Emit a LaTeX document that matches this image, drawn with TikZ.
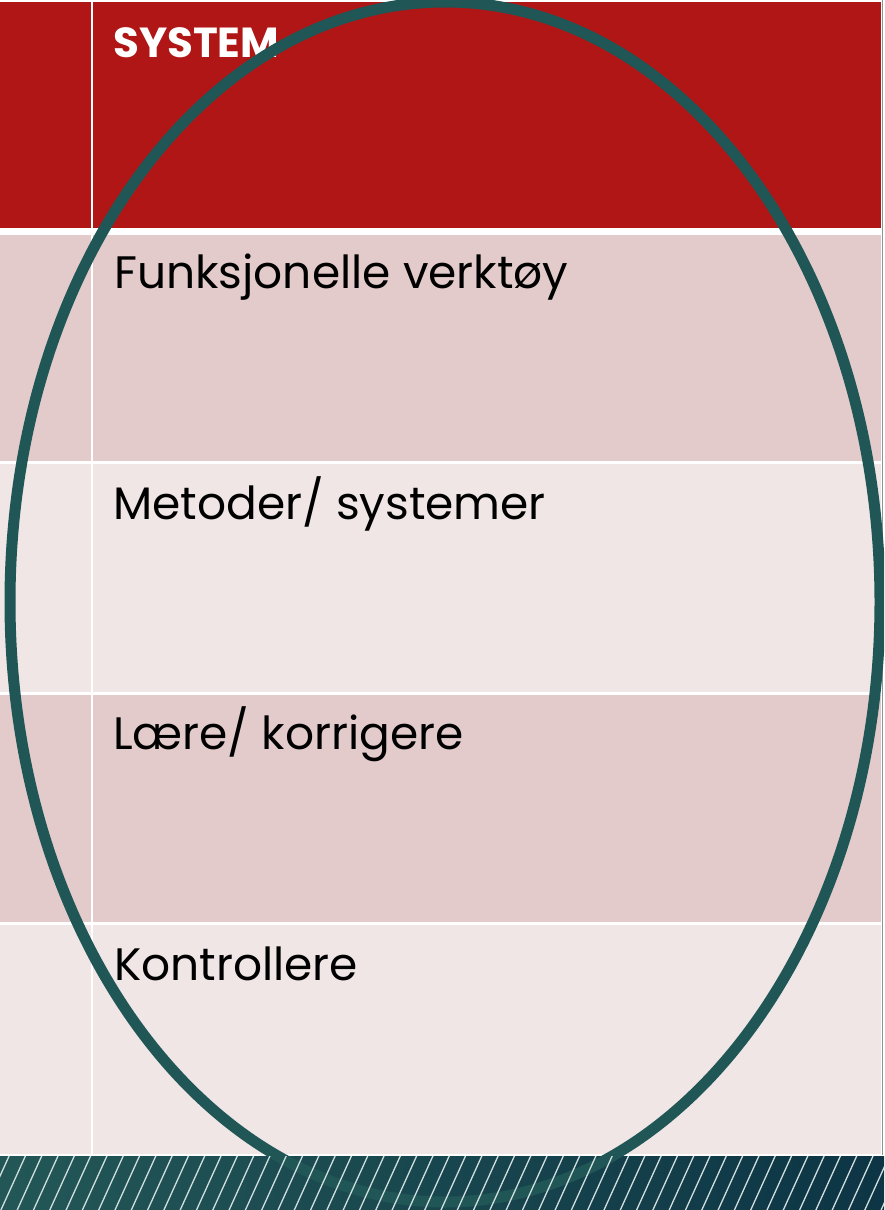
\documentclass[tikz,border=0pt]{standalone}
\usepackage{fontspec}
\setmainfont{Poppins}
\definecolor{hdrred}{HTML}{AF1615}
\definecolor{rowdark}{HTML}{E3CBCB}
\definecolor{rowlight}{HTML}{F0E6E6}
\definecolor{ringteal}{HTML}{205656}
\definecolor{bandleft}{HTML}{235757}
\definecolor{bandright}{HTML}{0D3545}
\definecolor{hatchline}{HTML}{D2DEDE}
\definecolor{edgegrey}{HTML}{8A9696}
\tikzset{
  celltext/.style={anchor=base west, inner sep=0pt, text=black, font=\fontsize{45.5}{54}\selectfont},
  headtext/.style={anchor=base west, inner sep=0pt, text=white, font=\fontsize{42}{50}\selectfont\bfseries},
  ring/.style={draw=ringteal, line width=11pt}
}
\begin{document}
\begin{tikzpicture}[x=1pt,y=-1pt]
\useasboundingbox (0,0) rectangle (884,1210);
\clip (0,0) rectangle (884,1210);
\fill[white] (0,0) rectangle (884,1210);
% header
\fill[hdrred] (0,2) rectangle (90.5,228);
\fill[hdrred] (93,2) rectangle (880.5,228);
% rows
\fill[rowdark]  (0,235) rectangle (90.5,460.5);
\fill[rowdark]  (93,235) rectangle (880.5,460.5);
\fill[rowlight] (0,463.5) rectangle (90.5,691.5);
\fill[rowlight] (93,463.5) rectangle (880.5,691.5);
\fill[rowdark]  (0,694.5) rectangle (90.5,921.5);
\fill[rowdark]  (93,694.5) rectangle (880.5,921.5);
\fill[rowlight] (0,924.5) rectangle (90.5,1153.5);
\fill[rowlight] (93,924.5) rectangle (880.5,1153.5);
\draw[edgegrey, line width=1pt] (882,0) -- (882,1155);
% hatched band background
\shade[left color=bandleft, right color=bandright] (0,1156) rectangle (884,1210);
% texts
\node[headtext] (hsys) at (113,57) {SYSTEM};
\node[celltext] (r1) at (114,288) {Funksjonelle verktøy};
\node[celltext] (r2) at (113,519) {Metoder/ systemer};
\node[celltext] (r3) at (113,749) {Lære/ korrigere};
\node[celltext] (r4) at (114,980) {Kontrollere};
% ellipse
\draw[ring] (445,602) ellipse [x radius=435, y radius=600];
% hatch lines over everything in the band
\begin{scope}
\clip (0,1156) rectangle (884,1210);
\foreach \i in {-3,...,56} {
  \draw[hatchline, line width=1.3pt] ({\i*16.3},1212) -- ({\i*16.3+26.3},1154);
}
\end{scope}
\end{tikzpicture}
\end{document}
